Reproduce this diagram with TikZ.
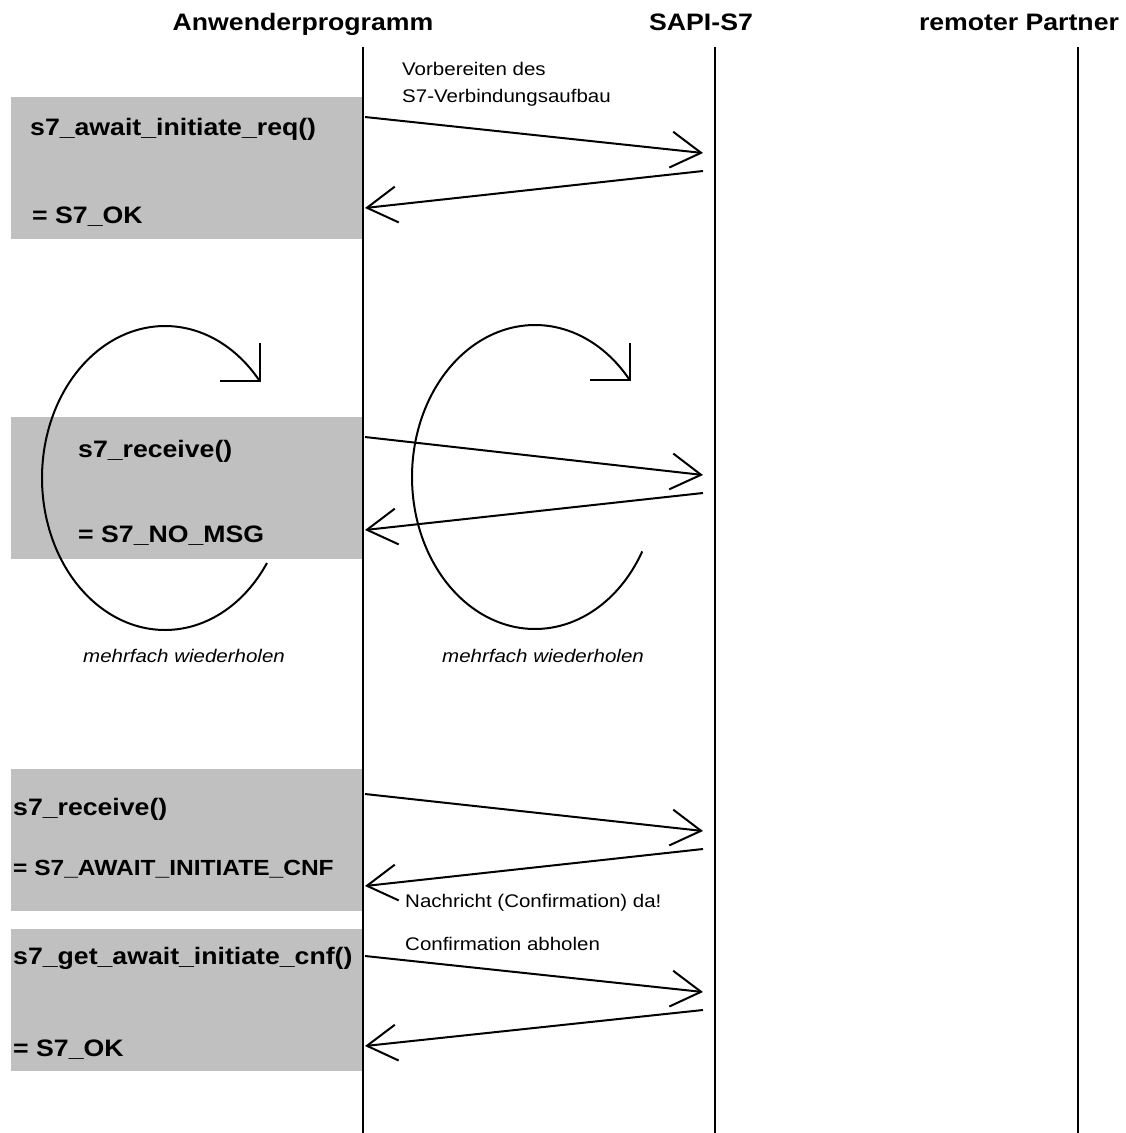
\documentclass[tikz,border=0pt]{standalone}
\usepackage{fontspec}
\setmainfont{Liberation Sans}[FakeStretch=1.12]
\usetikzlibrary{arrows.meta}
\definecolor{boxgray}{HTML}{C0C0C0}
\begin{document}
\begin{tikzpicture}[x=1pt,y=-1pt,
  lifeline/.style={line width=1.3pt},
  msg/.style={line width=2pt, -{Straight Barb[length=30pt,width=36pt]}},
  graybox/.style={fill=boxgray, draw=none, inner sep=0pt, outer sep=0pt,
    anchor=north west, minimum width=351pt, minimum height=142pt},
  head/.style={font=\fontsize{23.8}{28}\selectfont\bfseries, inner sep=0pt, anchor=base},
  call/.style={font=\fontsize{23.8}{28}\selectfont\bfseries, inner sep=0pt, anchor=base west},
  note/.style={font=\fontsize{18.3}{22}\selectfont, inner sep=0pt, anchor=base west},
  loopnote/.style={font=\fontsize{18.3}{22}\selectfont\itshape, inner sep=0pt, anchor=base west},
  loopline/.style={line width=2pt},
]
\useasboundingbox (0,0) rectangle (1125,1133);

% function call blocks of the application
\node[graybox] (box1) at (11,97) {};
\node[graybox] (box2) at (11,417) {};
\node[graybox] (box3) at (11,769) {};
\node[graybox] (box4) at (11,929) {};

% participants
\node[head] (hA) at (303,30) {Anwenderprogramm};
\node[head] (hS) at (701,30) {SAPI-S7};
\node[head] (hP) at (1019,30) {remoter Partner};

% lifelines
\coordinate (A0) at (363,47);  \coordinate (A1) at (363,1133);
\coordinate (S0) at (715,47);  \coordinate (S1) at (715,1133);
\coordinate (P0) at (1078,47); \coordinate (P1) at (1078,1133);
\draw[lifeline] (A0) -- (A1);
\draw[lifeline] (S0) -- (S1);
\draw[lifeline] (P0) -- (P1);

% message end points on the lifelines
\coordinate (m1s) at (365,117);  \coordinate (m1e) at (703,153);
\coordinate (m2s) at (703,171);  \coordinate (m2e) at (365,208);
\coordinate (m3s) at (365,437);  \coordinate (m3e) at (703,475);
\coordinate (m4s) at (703,493);  \coordinate (m4e) at (365,530);
\coordinate (m5s) at (365,794);  \coordinate (m5e) at (703,831);
\coordinate (m6s) at (703,849);  \coordinate (m6e) at (365,886);
\coordinate (m7s) at (365,956);  \coordinate (m7e) at (703,992);
\coordinate (m8s) at (703,1010); \coordinate (m8e) at (365,1046);
\draw[msg] (m1s) -- (m1e);
\draw[msg] (m2s) -- (m2e);
\draw[msg] (m3s) -- (m3e);
\draw[msg] (m4s) -- (m4e);
\draw[msg] (m5s) -- (m5e);
\draw[msg] (m6s) -- (m6e);
\draw[msg] (m7s) -- (m7e);
\draw[msg] (m8s) -- (m8e);

% repetition loops
\draw[loopline] plot[domain=34:320.4, samples=160]
  ({165+123*cos(\x)},{478+152*sin(\x)});
\draw[loopline] (260,343) -- (260,381) -- (220,381);
\draw[loopline] plot[domain=29.3:320.1, samples=160]
  ({535+123*cos(\x)},{477+152*sin(\x)});
\draw[loopline] (629.5,343) -- (629.5,380) -- (590,380);

% labels
\node[note] (t1a) at (402,75) {Vorbereiten des};
\node[note] (t1b) at (402,102) {S7-Verbindungsaufbau};
\node[call] (c1) at (30,135) {s7\_await\_initiate\_req()};
\node[call] (r1) at (32,223) {= S7\_OK};
\node[call] (c2) at (78,457) {s7\_receive()};
\node[call] (r2) at (78,542) {= S7\_NO\_MSG};
\node[loopnote] (rep1) at (83,662) {mehrfach wiederholen};
\node[loopnote] (rep2) at (442,662) {mehrfach wiederholen};
\node[call] (c3) at (13,815) {s7\_receive()};
\node[call, font=\fontsize{21.9}{26}\selectfont\bfseries] (r3) at (13,875) {= S7\_AWAIT\_INITIATE\_CNF};
\node[note] (n3) at (405,907) {Nachricht (Confirmation) da!};
\node[call] (c4) at (13,964) {s7\_get\_await\_initiate\_cnf()};
\node[note] (n4) at (405,950) {Confirmation abholen};
\node[call] (r4) at (13,1056) {= S7\_OK};
\end{tikzpicture}
\end{document}
